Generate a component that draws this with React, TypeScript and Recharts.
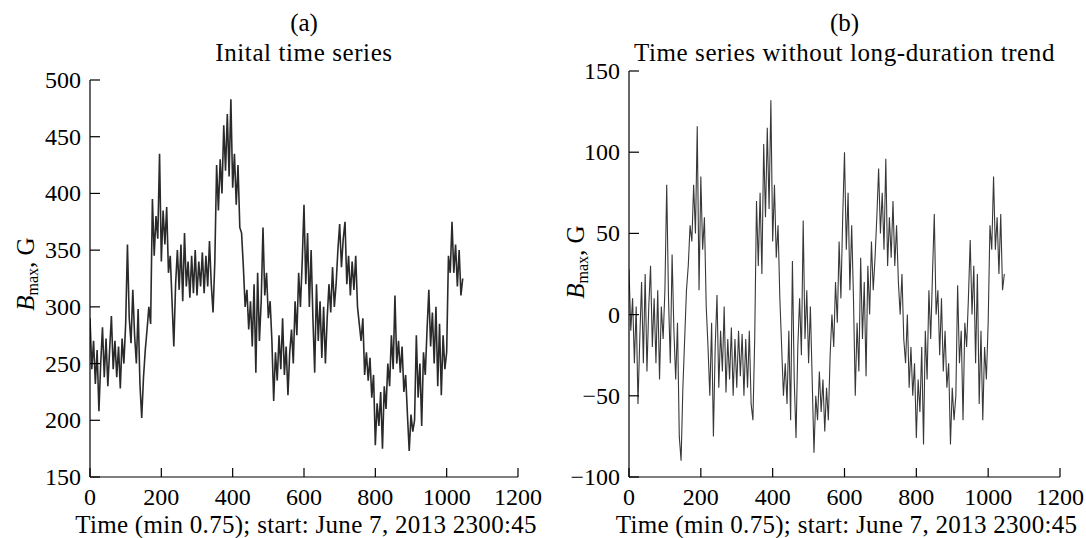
import React from "react";
import { LineChart, Line, XAxis, YAxis } from "recharts";

// sampling step along the time axis (units of 0.75 min)
const STEP = 5;

// (a) initial time series, B_max in G, read every 5 samples
const initialSeries = [
  290, 245, 270, 232, 262, 208, 250, 282, 238, 272,
  230, 262, 292, 245, 270, 238, 265, 228, 272, 250,
  285, 355, 290, 268, 315, 275, 250, 298, 232, 202,
  238, 262, 280, 300, 285, 395, 345, 380, 360, 435,
  340, 385, 355, 388, 330, 345, 305, 265, 320, 350,
  315, 355, 305, 365, 318, 340, 308, 345, 312, 350,
  310, 340, 318, 348, 312, 345, 318, 358, 320, 295,
  340, 425, 385, 430, 400, 460, 420, 470, 415, 483,
  405, 435, 390, 425, 370, 365, 335, 300, 315, 280,
  305, 265, 320, 242, 330, 270, 305, 370, 310, 330,
  290, 305, 270, 217, 260, 235, 275, 245, 290, 240,
  265, 222, 260, 280, 250, 305, 275, 330, 300, 340,
  390, 320, 365, 300, 350, 290, 242, 320, 270, 305,
  255, 300, 250, 290, 320, 295, 335, 300, 320, 350,
  373, 335, 360, 375, 320, 345, 310, 340, 315, 345,
  300, 285, 270, 290, 240, 260, 235, 255, 220, 240,
  178, 215, 195, 225, 175, 230, 210, 250, 230, 275,
  245, 310, 250, 270, 242, 265, 225, 240, 205, 173,
  205, 190, 200, 275, 220, 250, 195, 260, 240, 280,
  315, 265, 295, 250, 300, 230, 285, 222, 275, 245,
  260, 345, 330, 375, 330, 355, 318, 350, 310, 325,
];

// (b) detrended series
const detrendedSeries = [
  28, -10, 10, -30, 5, -55, -15, 20, -30, 25,
  -35, 5, 30, -20, 10, -30, 15, -40, 5, -15,
  15, 80, 10, -30, 37, -10, -40, -5, -75, -90,
  -45, -15, 15, 30, 55, 45, 80, 50, 116, 15,
  85, 40, 60, 5, -20, -50, -5, -75, -20, 12,
  -45, -10, -35, 5, -48, -15, -40, -8, -50, -15,
  -45, -10, -38, -12, -50, -15, -45, -10, -55, -65,
  -15, 70, 30, 75, 25, 105, 60, 115, 65, 132,
  45, 80, 35, 55, 10, -20, -50, -30, -55, -10,
  -65, 33, -40, -76, -20, 10, -25, 58, -15, 15,
  -30, 5, -40, -85, -50, -65, -35, -60, -40, -72,
  -45, -65, -25, 0, -20, 20, -5, 45, 10, 60,
  100, 40, 75, 15, 55, 10, -50, -5, -35, 35,
  -15, 20, -38, 30, 0, 45, 15, 35, 60, 90,
  50, 75, 40, 96, 30, 60, 35, 70, 30, 55,
  20, 0, 25, -15, -30, 0, -45, -20, -50, -30,
  -76, -40, -60, -20, -80, -10, -40, 15, -15, 25,
  62, 0, 15, -25, 10, -35, -10, -45, -30, -80,
  -45, -65, -50, 18, -30, -10, -65, -5, -20, 10,
  46, 0, 30, -30, 25, -55, -10, -65, -20, -40,
  -5, 55, 40, 85, 40, 60, 25, 62, 15, 25,
];

const xTicks = [0, 200, 400, 600, 800, 1000, 1200];
const yTicksA = [150, 200, 250, 300, 350, 400, 450, 500];
const yTicksB = [-100, -50, 0, 50, 100, 150];

const xLabel = "Time (min 0.75); start: June 7, 2013 2300:45";

const FONT = "'Liberation Serif', 'Times New Roman', serif";
const W = 543;
const H = 538;

const fmt = (v: number) => (v < 0 ? "\u2212" + Math.abs(v) : String(v));

const YTick = (props: any) => {
  const { x, y, payload } = props;
  return (
    <g>
      <line x1={x} x2={x + 10} y1={y} y2={y} stroke="#000" strokeWidth={1.2} />
      <text x={x - 9} y={y} dy={8} textAnchor="end" fontFamily={FONT} fontSize={24} fill="#000">
        {fmt(payload.value)}
      </text>
    </g>
  );
};

const XTick = (props: any) => {
  const { x, y, payload } = props;
  return (
    <g>
      <line x1={x} x2={x} y1={y} y2={y - 9} stroke="#000" strokeWidth={1.2} />
      <text x={x} y={y + 28} textAnchor="middle" fontFamily={FONT} fontSize={24} fill="#000">
        {payload.value}
      </text>
    </g>
  );
};

function Panel({ series, yDomain, yTicks, letter, title, top, right, yAxisW, labelX, labelY, stroke, strokeW }: any) {
  const data = series.map((v: number, i: number) => ({ t: i * STEP, v }));
  const plotCx = (yAxisW + (W - right)) / 2;
  return (
    <div style={{ position: "relative", width: W, height: H }}>
      <LineChart width={W} height={H} data={data} margin={{ top, right, bottom: 0, left: 0 }}>
        <XAxis
          dataKey="t"
          type="number"
          domain={[0, 1200]}
          ticks={xTicks}
          height={61}
          tickSize={0}
          tickMargin={0}
          tickLine={false}
          axisLine={{ stroke: "#000", strokeWidth: 1.2 }}
          tick={<XTick />}
          interval={0}
          allowDataOverflow
        />
        <YAxis
          type="number"
          domain={yDomain}
          ticks={yTicks}
          width={yAxisW}
          tickSize={0}
          tickMargin={0}
          tickLine={false}
          axisLine={{ stroke: "#000", strokeWidth: 1.2 }}
          tick={<YTick />}
          interval={0}
          allowDataOverflow
        />
        <Line
          type="linear"
          dataKey="v"
          stroke={stroke}
          strokeWidth={strokeW}
          strokeLinejoin="miter"
          dot={false}
          isAnimationActive={false}
        />
      </LineChart>
      <svg
        width={W}
        height={H}
        style={{ position: "absolute", left: 0, top: 0, pointerEvents: "none" }}
      >
        <g fontFamily={FONT} fill="#000">
          <text x={plotCx} y={31} textAnchor="middle" fontSize={25}>
            {letter}
          </text>
          <text x={plotCx} y={61} textAnchor="middle" fontSize={25} letterSpacing={0.6}>
            {title}
          </text>
          <text x={plotCx + 2} y={533} textAnchor="middle" fontSize={25} letterSpacing={0.3}>
            {xLabel}
          </text>
          <text
            x={labelX}
            y={labelY}
            textAnchor="middle"
            fontSize={25}
            transform={`rotate(-90, ${labelX}, ${labelY})`}
          >
            <tspan fontStyle="italic">B</tspan>
            <tspan fontSize={16} dy={4}>max</tspan>
            <tspan dy={-4}>, G</tspan>
          </text>
        </g>
      </svg>
    </div>
  );
}

export default function App() {
  return (
    <div
      style={{
        position: "absolute",
        left: 0,
        top: 0,
        width: 1086,
        height: 538,
        background: "#fff",
        display: "flex",
      }}
    >
      <Panel
        series={initialSeries}
        yDomain={[150, 500]}
        yTicks={yTicksA}
        letter="(a)"
        title="Inital time series"
        top={80}
        right={25}
        yAxisW={90}
        labelX={34}
        labelY={274}
        stroke="#2a2a2a"
        strokeW={1.6}
      />
      <Panel
        series={detrendedSeries}
        yDomain={[-100, 150]}
        yTicks={yTicksB}
        letter="(b)"
        title="Time series without long-duration trend"
        top={71}
        right={26}
        yAxisW={86}
        labelX={41}
        labelY={262}
        stroke="#383838"
        strokeW={1.1}
      />
    </div>
  );
}
